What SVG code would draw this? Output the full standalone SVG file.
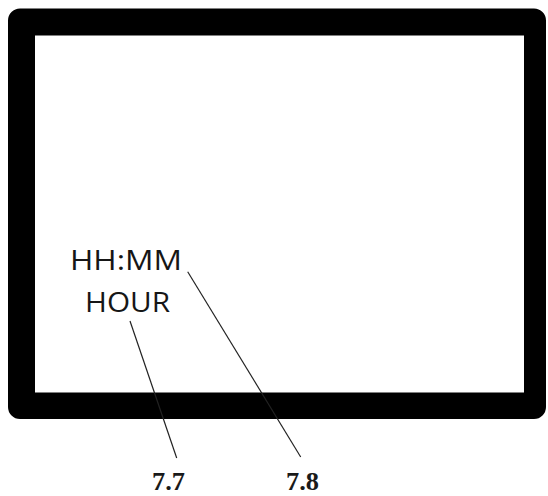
<svg xmlns="http://www.w3.org/2000/svg" width="548" height="496" viewBox="0 0 548 496">
<style>
.lbl{font-family:"Open Sans","Liberation Sans",sans-serif;font-size:27px;fill:#161616}
.ref{font-family:"Liberation Serif","Times New Roman",serif;font-size:25px;font-weight:bold;fill:#1a1a1a}
.lead{stroke:#222;stroke-width:1.2;fill:none}
</style>
<rect width="548" height="496" fill="#fff"/>
<g id="frame">
<path fill="#000" fill-rule="evenodd" d="M20,8.5 H534 A12,12 0 0 1 546,20.5 V407 A12,12 0 0 1 534,419 H20 A12,12 0 0 1 8,407 V20.5 A12,12 0 0 1 20,8.5 Z M35,35.5 V392.5 H524 V35.5 Z"/>
</g>
<g id="display-texts">
<text class="lbl" x="70" y="270" textLength="112" lengthAdjust="spacingAndGlyphs">HH:MM</text>
<text class="lbl" x="85" y="312" textLength="85" lengthAdjust="spacingAndGlyphs">HOUR</text>
</g>
<g id="connectors">
<line class="lead" x1="130" y1="321" x2="176.7" y2="458"/>
<line class="lead" x1="187.7" y1="271.7" x2="300.7" y2="457"/>
</g>
<g id="label-7-7">
<text class="ref" x="152" y="490" textLength="33" lengthAdjust="spacingAndGlyphs">7.7</text>
</g>
<g id="label-7-8">
<text class="ref" x="286" y="490" textLength="33" lengthAdjust="spacingAndGlyphs">7.8</text>
</g>
</svg>
